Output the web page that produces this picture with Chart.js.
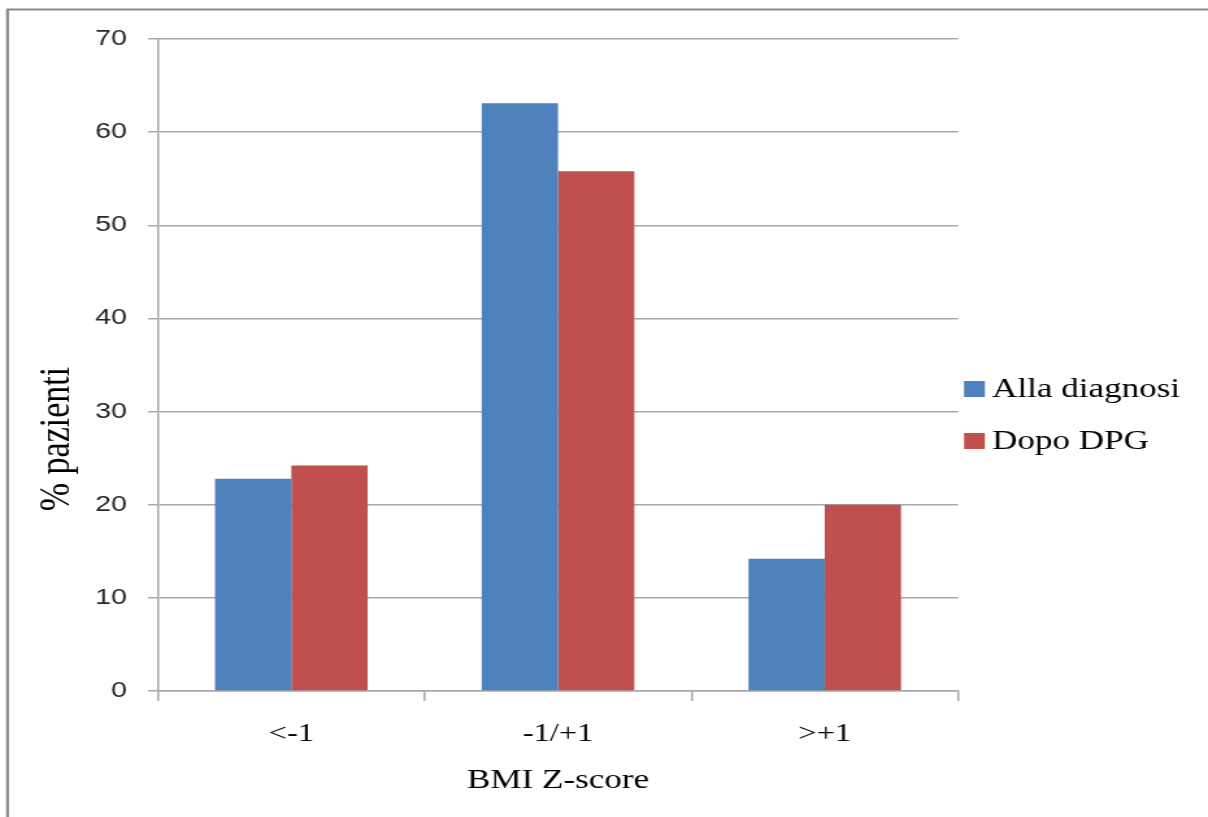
<!DOCTYPE html>
<html>
<head>
<meta charset="utf-8">
<script src="https://cdn.jsdelivr.net/npm/chart.js@4"></script>
<style>
  html, body { margin: 0; padding: 0; background: #fff; overflow: hidden; }
  #wrap {
    width: 930px; height: 817px;
    transform: scaleX(1.29892); transform-origin: 0 0;
  }
  canvas { display: block; }
</style>
</head>
<body>
<div id="wrap"><canvas id="chart" width="930" height="817"></canvas></div>
<script>
// Categories and series (% of patients per BMI Z-score class)
const categories = ['<-1', '-1/+1', '>+1'];
const allaDiagnosi = [22.8, 63.1, 14.2];
const dopoDPG = [24.2, 55.8, 20.0];
const seriesNames = ['Alla diagnosi', 'Dopo DPG'];
const yTickValues = [0, 10, 20, 30, 40, 50, 60, 70];
const xTitle = 'BMI Z-score';
const yTitle = '% pazienti';

const BLUE = '#4F81BD';
const RED = '#C0504D';
const GRID = '#a8a8a8';

// Outer frame, rotated y title and side legend
const decorPlugin = {
  id: 'decor',
  beforeDraw(chart) {
    const ctx = chart.ctx;
    ctx.save();
    ctx.fillStyle = '#fff';
    ctx.fillRect(0, 0, chart.width, chart.height);
    ctx.strokeStyle = '#8a8a8a';
    ctx.lineWidth = 2.2;
    ctx.beginPath();
    ctx.moveTo(5.8, chart.height);
    ctx.lineTo(5.8, 9.5);
    ctx.lineTo(chart.width, 9.5);
    ctx.stroke();
    ctx.restore();
  },
  afterDraw(chart) {
    const ctx = chart.ctx;
    const area = chart.chartArea;
    ctx.save();
    // y axis title
    ctx.translate(44.5, (area.top + area.bottom) / 2 + 74);
    ctx.rotate(-Math.PI / 2);
    ctx.font = '34px "Liberation Serif"';
    ctx.fillStyle = '#000';
    ctx.textAlign = 'center';
    ctx.textBaseline = 'middle';
    ctx.fillText(yTitle, 0, 0);
    ctx.restore();

    // legend
    ctx.save();
    const x0 = area.right + 4.6;
    const firstY = area.top + 350;
    chart.data.datasets.forEach((ds, i) => {
      const cy = firstY + i * 52;
      ctx.fillStyle = ds.backgroundColor;
      ctx.fillRect(x0, cy - 8, 16, 16);
      ctx.fillStyle = '#000';
      ctx.font = '27px "Liberation Serif"';
      ctx.textAlign = 'left';
      ctx.textBaseline = 'middle';
      ctx.fillText(ds.label, x0 + 21.5, cy + 1);
    });
    ctx.restore();
  }
};

new Chart(document.getElementById('chart'), {
  type: 'bar',
  data: {
    labels: categories,
    datasets: [
      { label: seriesNames[0], data: allaDiagnosi, backgroundColor: BLUE },
      { label: seriesNames[1], data: dopoDPG, backgroundColor: RED }
    ]
  },
  options: {
    responsive: false,
    animation: false,
    devicePixelRatio: 1,
    layout: { padding: { top: 39, right: 192.4, bottom: 0, left: 0 } },
    plugins: {
      legend: { display: false },
      tooltip: { enabled: false }
    },
    datasets: {
      bar: { categoryPercentage: 0.572, barPercentage: 1.0, borderWidth: 0 }
    },
    scales: {
      x: {
        afterFit(scale) { scale.height = 126; },
        grid: {
          offset: true,
          drawOnChartArea: false,
          drawTicks: true,
          tickLength: 10,
          color: GRID,
          lineWidth: 1.5
        },
        border: { display: true, color: GRID, width: 1.5 },
        ticks: {
          padding: 18.5,
          color: '#000',
          font: { family: 'Liberation Serif', size: 25 }
        },
        title: {
          display: true,
          text: xTitle,
          color: '#000',
          font: { family: 'Liberation Serif', size: 27 },
          padding: { top: 0, bottom: 19.8 }
        }
      },
      y: {
        min: 0,
        max: 70,
        afterFit(scale) { scale.width = 121.6; },
        afterBuildTicks(scale) { scale.ticks = yTickValues.map(v => ({ value: v })); },
        grid: {
          drawTicks: true,
          tickLength: 7.7,
          color: GRID,
          lineWidth: 1.5
        },
        border: { display: true, color: GRID, width: 1.5 },
        ticks: {
          padding: 16.1,
          color: '#262626',
          font: { family: 'Liberation Sans', size: 22 }
        }
      }
    }
  },
  plugins: [decorPlugin]
});
</script>
</body>
</html>
